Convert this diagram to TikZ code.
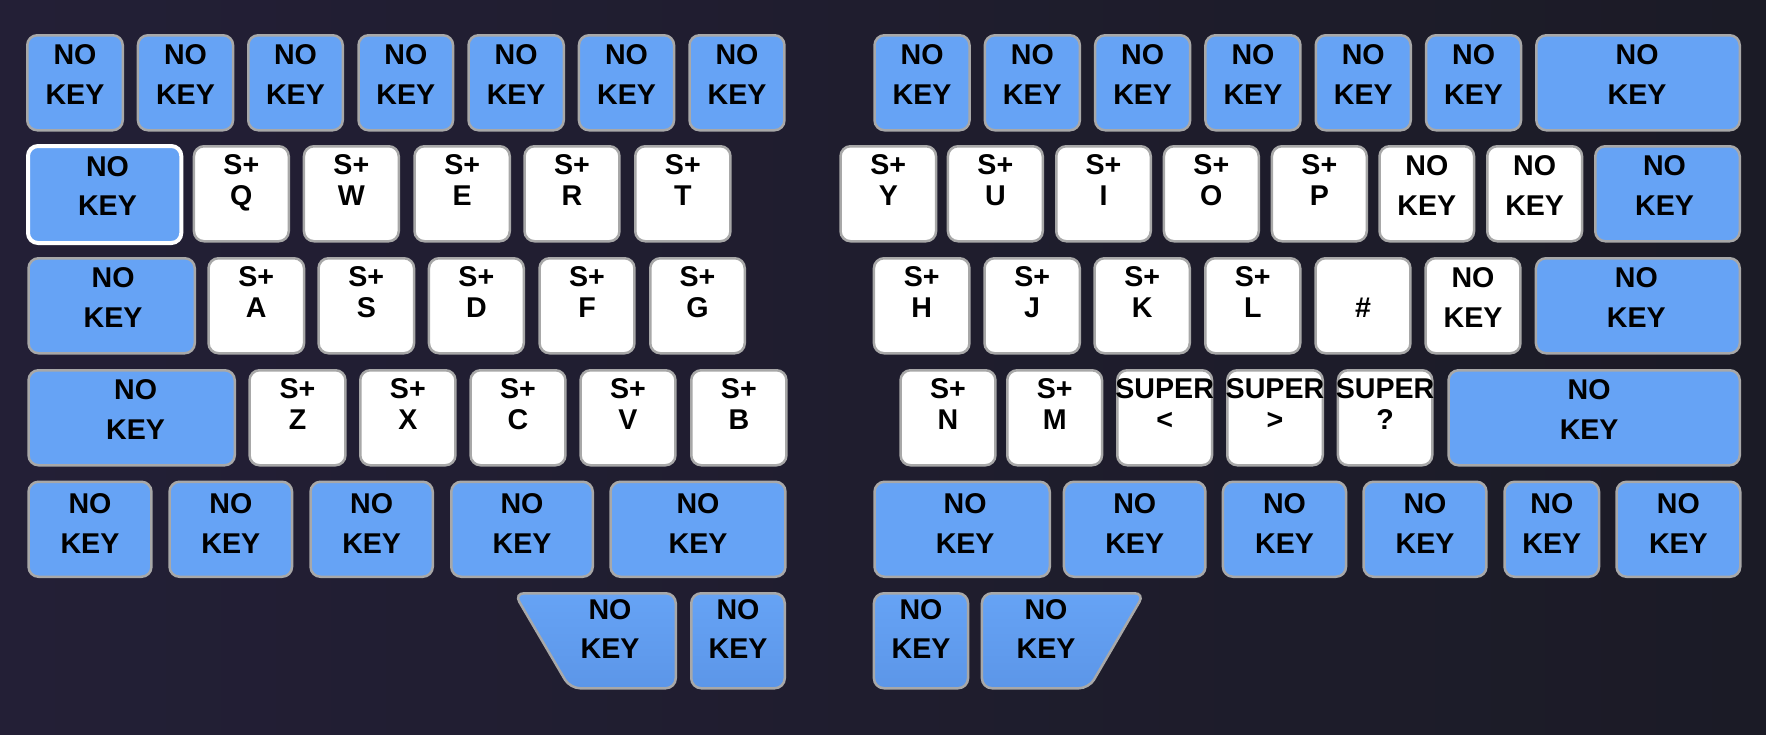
\documentclass[tikz,border=0pt]{standalone}
\usepackage{fontspec}
\setmainfont{Liberation Sans}
\definecolor{bgL}{RGB}{35,31,54}
\definecolor{bgM}{RGB}{30,29,44}
\definecolor{bgR}{RGB}{27,27,38}
\definecolor{kblue}{RGB}{102,163,245}
\definecolor{kblueD}{RGB}{92,150,232}
\definecolor{kborder}{RGB}{168,168,168}
\tikzset{
  keybox/.style={draw=kborder, line width=1.25pt, rounded corners=5pt, inner sep=0pt, outer sep=0pt},
  lbl/.style={anchor=base, inner sep=0pt, outer sep=0pt, text=black, font=\bfseries\fontsize{14.3}{17}\selectfont},
  tshade/.style={top color=kblue, bottom color=kblueD}
}
\def\kyA{30}\def\kyB{70}
\newcommand\kk[8]{%
  \node[keybox,#5,minimum width={(#3-#2-2.5)*0.5pt},minimum height={47.5pt}] (#1) at ({(#2+#3)/2},{#4+48.75}) {};
  \node[lbl] (#1-a) at ({(#2+#3)/2+#8},{#4+\kyA}) {#6};
  \node[lbl] (#1-b) at ({(#2+#3)/2+#8},{#4+\kyB}) {#7};}
\newcommand\nk[5]{\kk{#1}{#2}{#3}{#4}{fill=kblue}{NO}{KEY}{#5}}
\newcommand\wnk[4]{\kk{#1}{#2}{#3}{#4}{fill=white}{NO}{KEY}{0}}
\newcommand\sk[5]{{\def\kyA{29.5}\def\kyB{60.5}\kk{#1}{#2}{#3}{#4}{fill=white}{S+}{#5}{0}}}
\newcommand\supk[5]{{\def\kyA{29.5}\def\kyB{60.5}\kk{#1}{#2}{#3}{#4}{fill=white}{SUPER}{#5}{0}}}
\begin{document}
\begin{tikzpicture}[x=0.5pt,y=-0.5pt]
\useasboundingbox (0,0) rectangle (1766,734);
\shade[left color=bgL, middle color=bgM, right color=bgR] (0,0) rectangle (1766,734);
% ---------------- left half ----------------
% row 0
\nk{L0a}{26}{124}{34}{0}
\nk{L0b}{136.7}{234.3}{34}{0}
\nk{L0c}{247}{344}{34}{0}
\nk{L0d}{357.3}{454.3}{34}{0}
\nk{L0e}{467.3}{565}{34}{0}
\nk{L0f}{577.7}{675.3}{34}{0}
\nk{L0g}{688.3}{785.7}{34}{0}
% row 1
\node[keybox, draw=white, line width=2pt, fill=kblue, minimum width={76.65pt}, minimum height={48.5pt}] (L1a) at (104.65,194.5) {};
\node[lbl] (L1a-a) at (107.5,176) {NO};
\node[lbl] (L1a-b) at (107.5,215.5) {KEY};
\sk{kQ}{192.7}{290}{145}{Q}
\sk{kW}{302.7}{400}{145}{W}
\sk{kE}{413.3}{511}{145}{E}
\sk{kR}{523.3}{620.7}{145}{R}
\sk{kT}{634}{731.7}{145}{T}
% row 2
\nk{L2a}{27.3}{196}{257}{1.5}
\sk{kA}{207.3}{305.3}{257}{A}
\sk{kS}{317.3}{415.3}{257}{S}
\sk{kD}{427.7}{525}{257}{D}
\sk{kF}{538.3}{635.7}{257}{F}
\sk{kG}{649}{746}{257}{G}
% row 3
\nk{L3a}{27.3}{236}{369}{4}
\sk{kZ}{248.3}{346.7}{369}{Z}
\sk{kX}{359}{456.7}{369}{X}
\sk{kC}{469.3}{566.7}{369}{C}
\sk{kV}{579.3}{676.7}{369}{V}
\sk{kB}{690}{787.7}{369}{B}
% row 4
\def\kyA{32.5}\def\kyB{73}
\nk{L4a}{27.3}{152.7}{480.5}{0}
\nk{L4b}{168.3}{293.3}{480.5}{0}
\nk{L4c}{309.3}{434}{480.5}{0}
\nk{L4d}{450}{594}{480.5}{0}
\nk{L4e}{609.3}{786.7}{480.5}{0}
% thumbs
\def\kyA{27.5}\def\kyB{66}
\draw[draw=kborder, line width=1.25pt, rounded corners=5pt, tshade] (514.25,593.25) -- (675.75,593.25) -- (675.75,688.25) -- (570,688.25) -- cycle;
\node[lbl] (LT1-a) at (610,619.5) {NO};
\node[lbl] (LT1-b) at (610,658) {KEY};
\kk{LT2}{690}{786}{592}{tshade}{NO}{KEY}{0}
% ---------------- right half ----------------
\def\kyA{30}\def\kyB{70}
% row 0
\nk{R0a}{873.3}{970.8}{34}{0}
\nk{R0b}{983.6}{1081.1}{34}{0}
\nk{R0c}{1093.9}{1191.4}{34}{0}
\nk{R0d}{1204.2}{1301.7}{34}{0}
\nk{R0e}{1314.5}{1412}{34}{0}
\nk{R0f}{1424.8}{1522.3}{34}{0}
\nk{R0g}{1535.1}{1741}{34}{-1}
% row 1
\sk{kY}{839.3}{937.3}{145}{Y}
\sk{kU}{946.7}{1044}{145}{U}
\sk{kI}{1055}{1152}{145}{I}
\sk{kO}{1162.7}{1260}{145}{O}
\sk{kP}{1270.7}{1368}{145}{P}
\wnk{R1f}{1378.3}{1475.3}{145}
\wnk{R1g}{1486}{1583.3}{145}
\nk{R1h}{1594}{1741}{145}{-3}
% row 2
\sk{kH}{872.7}{970.7}{257}{H}
\sk{kJ}{983.3}{1081}{257}{J}
\sk{kK}{1093.3}{1191}{257}{K}
\sk{kL}{1204}{1301.5}{257}{L}
{\def\kyA{29.5}\def\kyB{60.5}\kk{kHash}{1314.3}{1411.7}{257}{fill=white}{}{\#}{0}}
\wnk{R2f}{1424.3}{1521.7}{257}
\nk{R2g}{1534.7}{1741}{257}{-1.5}
% row 3
\sk{kN}{899.3}{996.7}{369}{N}
\sk{kM}{1006}{1103.3}{369}{M}
\supk{kLt}{1116}{1213.3}{369}{<}
\supk{kGt}{1226}{1324}{369}{>}
\supk{kQm}{1336.7}{1433.5}{369}{?}
\nk{R3f}{1447.3}{1741}{369}{-5}
% row 4
\def\kyA{32.5}\def\kyB{73}
\nk{R4a}{873.3}{1051}{480.5}{3}
\nk{R4b}{1062.7}{1206.7}{480.5}{0}
\nk{R4c}{1221.7}{1347.3}{480.5}{0}
\nk{R4d}{1362.3}{1487.7}{480.5}{0}
\nk{R4e}{1503.3}{1600.3}{480.5}{0}
\nk{R4f}{1615.3}{1741.5}{480.5}{0}
% thumbs
\def\kyA{27.5}\def\kyB{66}
\kk{RT1}{872.7}{969.3}{592}{tshade}{NO}{KEY}{0}
\draw[draw=kborder, line width=1.25pt, rounded corners=5pt, tshade] (981.95,593.25) -- (1144.45,593.25) -- (1089,688.25) -- (981.95,688.25) -- cycle;
\node[lbl] (RT2-a) at (1046,619.5) {NO};
\node[lbl] (RT2-b) at (1046,658) {KEY};
\end{tikzpicture}
\end{document}
